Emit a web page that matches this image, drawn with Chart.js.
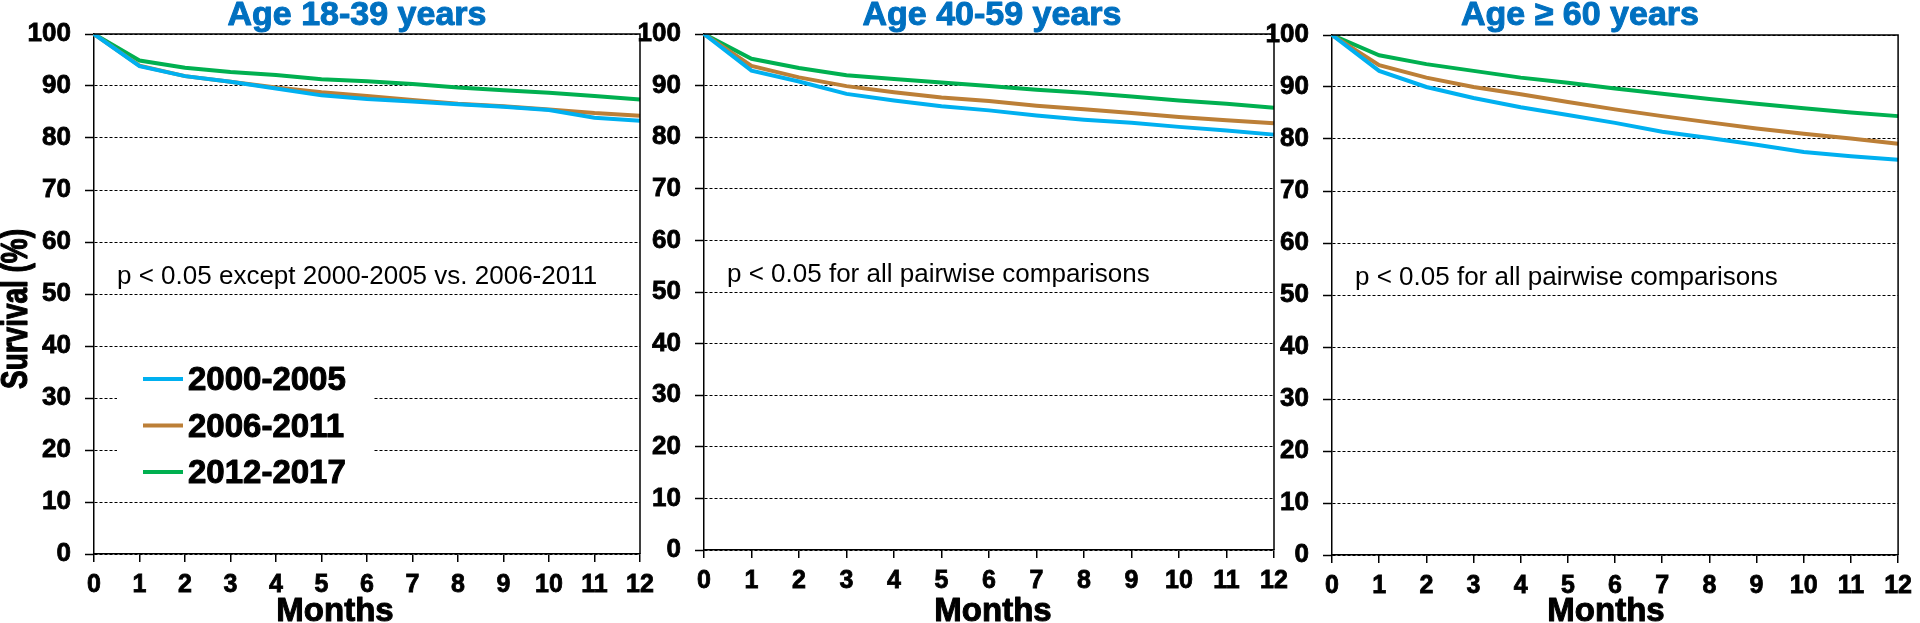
<!DOCTYPE html>
<html>
<head>
<meta charset="utf-8">
<script src="https://cdn.jsdelivr.net/npm/chart.js@4.4.1/dist/chart.umd.min.js"></script>
<style>
html,body{margin:0;padding:0;background:#fff;width:1920px;height:623px;overflow:hidden;}
canvas{position:absolute;top:0;}
</style>
</head>
<body>
<canvas id="c1" width="680" height="623" style="left:0px;width:680px;height:623px"></canvas>
<canvas id="c2" width="680" height="623" style="left:620px;width:680px;height:623px"></canvas>
<canvas id="c3" width="670" height="623" style="left:1250px;width:670px;height:623px"></canvas>
<script>
// ---------- data ----------
const months = ['0','1','2','3','4','5','6','7','8','9','10','11','12'];
const seriesNames = ['2000-2005', '2006-2011', '2012-2017'];
const panelTitles = ['Age 18-39 years', 'Age 40-59 years', 'Age \u2265 60 years'];
const panelNotes = ['p < 0.05 except 2000-2005 vs. 2006-2011', 'p < 0.05 for all pairwise comparisons', 'p < 0.05 for all pairwise comparisons'];
const yAxisTitle = 'Survival (%)';
const xAxisTitle = 'Months';

// Age 18-39
const age18_2000 = [100, 93.8, 91.9, 90.8, 89.5, 88.2, 87.5, 87.0, 86.5, 86.0, 85.4, 83.9, 83.3];
const age18_2006 = [100, 93.9, 91.9, 90.8, 89.7, 88.8, 88.1, 87.3, 86.6, 86.1, 85.5, 84.8, 84.3];
const age18_2012 = [100, 94.9, 93.5, 92.7, 92.1, 91.3, 90.9, 90.4, 89.7, 89.2, 88.7, 88.1, 87.4];
// Age 40-59
const age40_2000 = [100, 92.9, 90.8, 88.4, 87.1, 86.0, 85.2, 84.2, 83.4, 82.8, 82.0, 81.3, 80.5];
const age40_2006 = [100, 93.8, 91.6, 89.9, 88.7, 87.7, 87.0, 86.1, 85.4, 84.7, 83.9, 83.3, 82.7];
const age40_2012 = [100, 95.2, 93.4, 92.0, 91.3, 90.6, 89.9, 89.2, 88.6, 87.9, 87.1, 86.5, 85.7];
// Age >= 60
const age60_2000 = [100, 93.1, 90.0, 87.9, 86.1, 84.6, 83.1, 81.4, 80.2, 78.9, 77.5, 76.7, 76.0];
const age60_2006 = [100, 94.2, 91.8, 90.0, 88.6, 87.1, 85.7, 84.4, 83.2, 82.0, 81.0, 80.1, 79.1];
const age60_2012 = [100, 96.1, 94.4, 93.1, 91.8, 90.8, 89.7, 88.7, 87.7, 86.8, 85.9, 85.1, 84.4];

// ---------- styling ----------
const FF = '"Liberation Sans", Arial, Helvetica, sans-serif';
const COLORS = ['#00B0F0', '#BC7F37', '#00B050'];

function boldText(ctx, txt, x, y, color, sw) {
  ctx.fillStyle = color;
  ctx.fillText(txt, x, y);
  ctx.strokeStyle = color;
  ctx.lineWidth = sw;
  ctx.lineJoin = 'round';
  ctx.setLineDash([]);
  ctx.strokeText(txt, x, y);
}

const deco = {
  id: 'deco',
  afterDraw(chart, args, o) {
    const ctx = chart.ctx, a = chart.chartArea;
    ctx.save();
    // top and right frame
    ctx.strokeStyle = '#000'; ctx.lineWidth = 1.5; ctx.setLineDash([]);
    ctx.beginPath();
    ctx.moveTo(a.left, a.top); ctx.lineTo(a.right, a.top); ctx.lineTo(a.right, a.bottom);
    ctx.stroke();
    // panel title
    ctx.font = 'bold 34px ' + FF;
    ctx.textAlign = 'center'; ctx.textBaseline = 'alphabetic';
    boldText(ctx, o.title, o.titleX, 25, '#0070C0', 1);
    // x axis title
    ctx.font = 'bold 33px ' + FF;
    boldText(ctx, xAxisTitle, o.monthsX, 621, '#000', 1);
    // note
    ctx.font = '26px ' + FF;
    ctx.textAlign = 'left';
    ctx.fillStyle = '#000';
    const y50 = chart.scales.y.getPixelForValue(50);
    ctx.fillText(o.note, a.left + 23, y50 - 10);
    // legend
    if (o.legend) {
      ctx.fillStyle = '#fff';
      ctx.fillRect(117, 352, 256, 146);
      chart.data.datasets.forEach((ds, i) => {
        const yc = 379 + i * 46.5;
        ctx.strokeStyle = ds.borderColor; ctx.lineWidth = 4;
        ctx.beginPath(); ctx.moveTo(143, yc); ctx.lineTo(183, yc); ctx.stroke();
        ctx.font = 'bold 33px ' + FF;
        ctx.textAlign = 'left'; ctx.textBaseline = 'alphabetic';
        boldText(ctx, ds.label, 188, yc + 11, '#000', 1);
      });
    }
    // y axis title (condensed to the reference length)
    if (o.yTitle) {
      ctx.font = 'bold 36px ' + FF;
      const w = ctx.measureText(o.yTitle).width;
      const sx = 160 / w;
      ctx.setTransform(1, 0, 0, 1, 0, 0);
      ctx.translate(27, 309);
      ctx.rotate(-Math.PI / 2);
      ctx.scale(sx, 1);
      ctx.textAlign = 'center'; ctx.textBaseline = 'alphabetic';
      boldText(ctx, o.yTitle, 0, 0, '#000', 1.2);
    }
    ctx.restore();
  }
};

function makeChart(id, series, cfg) {
  const ctx = document.getElementById(id);
  return new Chart(ctx, {
    type: 'line',
    data: {
      labels: months,
      datasets: series.map((vals, i) => ({
        label: seriesNames[i],
        data: vals,
        borderColor: COLORS[i],
        backgroundColor: COLORS[i],
        borderWidth: 4,
        pointRadius: 0,
        tension: 0,
        fill: false
      }))
    },
    options: {
      responsive: false,
      devicePixelRatio: 1,
      animation: false,
      layout: { padding: { left: 0, right: cfg.padRight, top: cfg.padTop, bottom: 0 } },
      plugins: {
        legend: { display: false },
        tooltip: { enabled: false },
        title: { display: false },
        deco: {
          title: cfg.title, titleX: cfg.titleX, monthsX: cfg.monthsX,
          note: cfg.note, legend: cfg.legend, yTitle: cfg.yTitle
        }
      },
      scales: {
        x: {
          type: 'category',
          offset: false,
          afterFit: (s) => { s.height = cfg.xHeight; },
          grid: { display: true, drawOnChartArea: false, drawTicks: true, tickLength: 8, color: '#000', lineWidth: 1.5 },
          border: { display: true, color: '#000', width: 1.5 },
          ticks: { color: '#000', font: { family: FF, size: 25, weight: 'bold' }, textStrokeColor: '#000', textStrokeWidth: 0.8, padding: 8, maxRotation: 0, autoSkip: false }
        },
        y: {
          min: 0, max: 100,
          afterFit: (s) => { s.width = cfg.yWidth; },
          grid: { display: true, drawTicks: true, tickLength: 9, color: '#000', lineWidth: 1, tickColor: '#000', tickWidth: 1.5 },
          border: { display: true, color: '#000', width: 1.5, dash: [3, 2] },
          ticks: { stepSize: 10, color: '#000', font: { family: FF, size: 26, weight: 'bold' }, textStrokeColor: '#000', textStrokeWidth: 0.8, padding: 14 }
        }
      }
    },
    plugins: [deco]
  });
}

makeChart('c1', [age18_2000, age18_2006, age18_2012], {
  padRight: 40, padTop: 34, xHeight: 69, yWidth: 94,
  title: panelTitles[0], titleX: 357, monthsX: 335, note: panelNotes[0], legend: true, yTitle: yAxisTitle
});
makeChart('c2', [age40_2000, age40_2006, age40_2012], {
  padRight: 26, padTop: 34, xHeight: 73, yWidth: 84,
  title: panelTitles[1], titleX: 372, monthsX: 373, note: panelNotes[1], legend: false, yTitle: null
});
makeChart('c3', [age60_2000, age60_2006, age60_2012], {
  padRight: 17, padTop: 35, xHeight: 68, yWidth: 82,
  title: panelTitles[2], titleX: 330, monthsX: 356, note: panelNotes[2], legend: false, yTitle: null
});
</script>
</body>
</html>
